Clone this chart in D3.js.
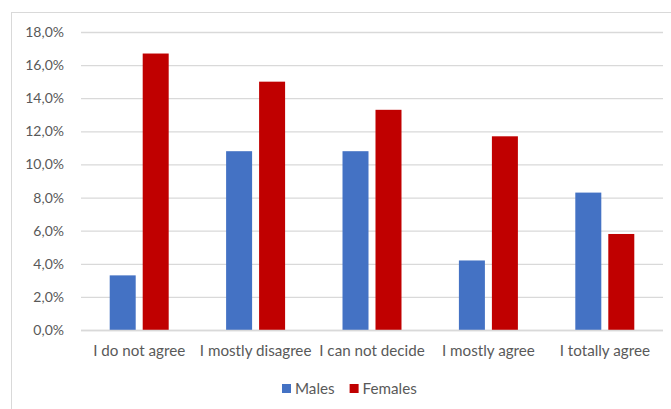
<!DOCTYPE html>
<html>
<head>
<meta charset="utf-8">
<script src="https://cdn.jsdelivr.net/npm/d3@7"></script>
<style>
  html, body { margin: 0; padding: 0; background: #fff; }
  svg { display: block; }
  text { font-family: Lato, "Open Sans", sans-serif; fill: #595959; }
</style>
</head>
<body>
<svg id="chart" width="671" height="409"></svg>
<script>
// Survey answers by gender (share of respondents, %)
const categories = ["I do not agree", "I mostly disagree", "I can not decide", "I mostly agree", "I totally agree"];
const seriesNames = ["Males", "Females"];
const males = [3.3, 10.8, 10.8, 4.2, 8.3];
const females = [16.7, 15.0, 13.3, 11.7, 5.8];
const yTicks = [0, 2, 4, 6, 8, 10, 12, 14, 16, 18];
const colors = ["#4472C4", "#C00000"];

(function draw() {
  const seriesValues = [males, females];
  const svg = d3.select("#chart");

  // outer frame of the chart area
  svg.append("rect")
    .attr("x", 11.5).attr("y", 12.5)
    .attr("width", 720).attr("height", 520)
    .attr("fill", "none").attr("stroke", "#d9d9d9").attr("stroke-width", 1);

  const plotLeft = 81, plotRight = 663, plotTop = 32, plotBottom = 330;

  const y = d3.scaleLinear().domain([0, 18]).range([plotBottom, plotTop]);
  const x0 = d3.scaleBand().domain(categories).range([plotLeft, plotRight]).padding(0);
  const x1 = d3.scaleBand().domain(seriesNames).range([0, x0.bandwidth()])
    .paddingInner(0.212).paddingOuter(0.87);

  // horizontal gridlines and y labels
  const yAxis = d3.axisLeft(y)
    .tickValues(yTicks)
    .tickSize(-(plotRight - plotLeft))
    .tickPadding(17)
    .tickFormat(d => d.toFixed(1).replace(".", ",") + "%");

  const gy = svg.append("g").attr("transform", `translate(${plotLeft},0)`).call(yAxis);
  gy.select(".domain").remove();
  gy.selectAll(".tick line").attr("stroke", "#d9d9d9").attr("stroke-width", 1.3);
  gy.selectAll(".tick text").attr("font-size", 14).attr("fill", "#595959")
    .style("font-family", "Lato, sans-serif");

  // bars
  const groups = svg.append("g").selectAll("g")
    .data(categories)
    .join("g")
    .attr("transform", d => `translate(${x0(d)},0)`);

  groups.selectAll("rect")
    .data((d, i) => seriesNames.map((s, j) => ({ s, v: seriesValues[j][i], c: colors[j] })))
    .join("rect")
    .attr("x", d => x1(d.s))
    .attr("width", x1.bandwidth())
    .attr("y", d => y(d.v))
    .attr("height", d => y(0) - y(d.v))
    .attr("fill", d => d.c);

  // baseline
  svg.append("line")
    .attr("x1", plotLeft).attr("x2", plotRight)
    .attr("y1", y(0) + 0.5).attr("y2", y(0) + 0.5)
    .attr("stroke", "#d9d9d9").attr("stroke-width", 1.3);

  // category labels
  const xAxis = d3.axisBottom(x0).tickSize(0).tickPadding(15);
  const gx = svg.append("g").attr("transform", `translate(0,${plotBottom})`).call(xAxis);
  gx.select(".domain").remove();
  gx.selectAll(".tick text").attr("font-size", 15.2).attr("fill", "#595959")
    .style("font-family", "Lato, sans-serif");

  // legend
  const legend = svg.append("g").attr("transform", "translate(282,389)");
  let lx = 0;
  seriesNames.forEach((s, i) => {
    const g = legend.append("g").attr("transform", `translate(${lx},0)`);
    g.append("rect").attr("x", 0).attr("y", -5).attr("width", 9).attr("height", 9).attr("fill", colors[i]);
    const t = g.append("text").attr("x", 13).attr("y", 0).attr("dy", "0.35em")
      .attr("font-size", 15.2).text(s);
    lx += 13 + t.node().getComputedTextLength() + 15;
  });
})();
</script>
</body>
</html>
